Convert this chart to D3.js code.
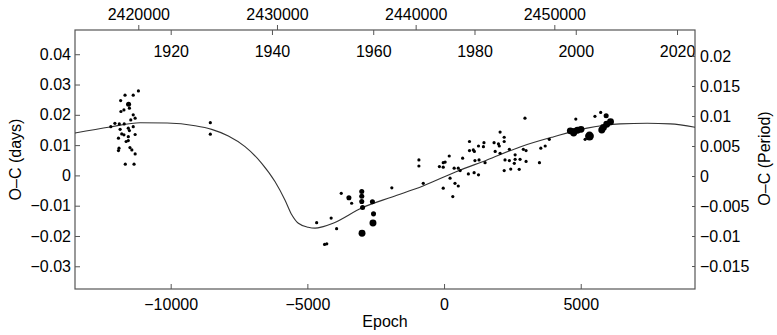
<!DOCTYPE html>
<html lang="en">
<head>
  <meta charset="utf-8">
  <title>O-C diagram</title>
  <script src="https://d3js.org/d3.v7.min.js"></script>
  <style>
  body {
    margin: 0;
    background: white;
  }
  .axis text {
    font-family: "Liberation Sans", Arial, sans-serif;
    font-size: 16px;
    fill: black;
  }
  .axis line {
    stroke: #555;
  }
  .axis path {
    display: none;
  }
  .label {
    font-family: "Liberation Sans", Arial, sans-serif;
    font-size: 16px;
    fill: black;
    text-anchor: middle;
  }
  </style>
</head>
<body>
<script>

// Display constants (plot box in pixels)
var width = 777;
var height = 335;
var plotL = 75, plotR = 695, plotT = 30, plotB = 289;

// Observed minima: epoch, O-C (days), weight class
var epoch = [
  -11180,-11670,-11370,-11830,-11540,-11510,-11710,-11820,-11370,-11300,
  -11460,-12040,-11880,-11700,-12190,-11550,-11370,-11850,-11510,-11790,
  -11710,-11300,-11910,-11550,-11630,-11550,-11890,-11910,-11490,-11420,
  -11300,-11660,-11340,-8550,-8550,
  -4660,-4290,-4370,-4130,-3930,-3760,-3480,-3380,-3010,-3010,
  -3010,-2980,-3000,-2620,-2580,-2600,-1910,-760,-920,-920,
  -170,-30,40,-30,-30,190,220,320,370,400,
  520,520,590,680,890,930,930,1070,1110,1100,
  1130,1260,1260,1280,1440,1460,1500,1830,1870,1990,
  2020,2050,2050,2200,2200,2230,2200,2390,2390,2440,
  2570,2600,2600,2750,2780,2900,3000,3000,2960,3490,
  3540,3700,3850,
  4620,4760,4880,5010,4740,5320,5770,5830,5950,6090,5930,
  4820,5520,5730,5160
];
var oc = [
  0.0279,0.0265,0.0265,0.0247,0.0235,0.0222,0.0216,0.0211,0.0200,0.0189,
  0.0183,0.0172,0.0170,0.0170,0.0161,0.0156,0.0161,0.0152,0.0148,0.0137,
  0.0134,0.0135,0.0123,0.0128,0.0112,0.0115,0.0090,0.0082,0.0092,0.0084,
  0.0071,0.0037,0.0037,0.0174,0.0136,
  -0.0156,-0.0226,-0.0228,-0.0141,-0.0176,-0.0059,-0.0074,-0.0092,-0.0053,-0.0069,
  -0.0086,-0.0106,-0.0191,-0.0087,-0.0127,-0.0157,-0.0041,-0.0026,0.0051,0.0031,
  0.0029,0.0042,0.0044,0.0027,-0.0042,0.0064,-0.0009,-0.0070,0.0024,-0.0026,
  -0.0035,0.0024,0.0016,0.0057,0.0005,0.0112,0.0082,0.0084,0.0079,0.0009,
  0.0049,0.0097,0.0002,0.0051,0.0095,0.0108,0.0042,0.0108,0.0079,0.0104,
  0.0097,0.0143,0.0073,0.0126,0.0112,0.0051,0.0016,0.0086,0.0049,0.0021,
  0.0040,0.0068,0.0053,0.0020,0.0053,0.0086,0.0082,0.0046,0.0189,0.0042,
  0.0090,0.0097,0.0119,
  0.0147,0.0145,0.0149,0.0152,0.0140,0.0130,0.0150,0.0158,0.0169,0.0177,0.0197,
  0.0186,0.0195,0.0208,0.0119
];
var weight = [
  1,1,1,1,2,1,1,1,1,1,
  1,1,1,1,1,1,1,1,1,1,
  1,1,1,1,1,1,1,1,1,1,
  1,1,1,1,1,
  1,1,1,1,1,1,2,1,2,2,
  2,2,3,2,2,3,1,1,1,1,
  1,1,1,1,1,1,1,1,1,1,
  1,1,1,1,1,1,1,1,1,1,
  1,1,1,1,1,1,1,1,1,1,
  1,1,1,1,1,1,1,1,1,1,
  1,1,1,1,1,1,1,1,1,1,
  1,1,1,
  3,3,3,3,3,4,3,3,3,3,2,
  1,1,1,1
];

var fitEpoch = [-13500,-12220,-11120,-10130,-9110,-8500,-7890,-7280,-6670,-6180,
  -5820,-5570,-5330,-4970,-4720,-4420,-4060,-3000,-1900,-770,
  440,1570,2780,3990,5230,6440,7430,8270,9180];
var fitOC = [0.0140,0.0160,0.0174,0.0173,0.0164,0.0152,0.0130,0.0095,0.0040,-0.0021,
  -0.0081,-0.0130,-0.0158,-0.0171,-0.0174,-0.0169,-0.0158,-0.0107,-0.0071,-0.0035,
  0.0012,0.0051,0.0094,0.0127,0.0156,0.0170,0.0172,0.0170,0.0159];

// Tick labels
var epochTicks = [-10000, -5000, 0, 5000];
var yearTicks = [1920, 1940, 1960, 1980, 2000, 2020];
var jdTicks = [2420000, 2430000, 2440000, 2450000];
var daysTicks = [-0.03, -0.02, -0.01, 0, 0.01, 0.02, 0.03, 0.04];
var periodTicks = [-0.015, -0.01, -0.005, 0, 0.005, 0.01, 0.015, 0.02];

var svg = d3.select("body")
  .append("svg")
  .attr("width", width)
  .attr("height", height);

var x = d3.scaleLinear().domain([-13500, 9180]).range([plotL, plotR]);
var xYear = d3.scaleLinear().domain([1901.1, 2023.55]).range([plotL, plotR]);
var xJD = d3.scaleLinear().domain([2415436, 2460144]).range([plotL, plotR]);
var y = d3.scaleLinear().domain([-0.0375, 0.048]).range([plotB, plotT]);
var yP = d3.scaleLinear().domain([-0.01883, 0.02433]).range([plotB, plotT]);
var r = d3.scaleLinear().domain([1, 4]).range([1.6, 4.4]);

var fmt = d3.format("~g");

// Axes
svg.append("g")
  .attr("class", "axis")
  .attr("transform", "translate(0," + plotB + ")")
  .call(d3.axisBottom(x).tickValues(epochTicks).tickSize(-5).tickPadding(9.5)
    .tickFormat(d3.format("d")));

svg.append("g")
  .attr("class", "axis")
  .attr("transform", "translate(0," + plotT + ")")
  .call(d3.axisBottom(xYear).tickValues(yearTicks).tickSize(5).tickPadding(10.5)
    .tickFormat(d3.format("d")));

svg.append("g")
  .attr("class", "axis")
  .attr("transform", "translate(0," + plotT + ")")
  .call(d3.axisTop(xJD).tickValues(jdTicks).tickSize(5).tickPadding(5)
    .tickFormat(d3.format("d")));

svg.append("g")
  .attr("class", "axis")
  .attr("transform", "translate(" + plotL + ",0)")
  .call(d3.axisLeft(y).tickValues(daysTicks).tickSize(-5).tickPadding(4)
    .tickFormat(fmt));

svg.append("g")
  .attr("class", "axis")
  .attr("transform", "translate(" + plotR + ",0)")
  .call(d3.axisRight(yP).tickValues(periodTicks).tickSize(-3).tickPadding(5)
    .tickFormat(fmt));

// Frame
svg.append("rect")
  .attr("x", plotL)
  .attr("y", plotT)
  .attr("width", plotR - plotL)
  .attr("height", plotB - plotT)
  .attr("fill", "none")
  .attr("stroke", "#555")
  .attr("stroke-width", 1.2);

// Fit curve
var line = d3.line()
  .x(function(d, i) { return x(fitEpoch[i]); })
  .y(function(d) { return y(d); })
  .curve(d3.curveMonotoneX);

svg.append("path")
  .attr("d", line(fitOC))
  .attr("fill", "none")
  .attr("stroke", "#333")
  .attr("stroke-width", 1.1);

// Observations
svg.append("g").selectAll("circle")
  .data(oc)
  .enter().append("circle")
  .attr("cx", function(d, i) { return x(epoch[i]); })
  .attr("cy", function(d) { return y(d); })
  .attr("r", function(d, i) { return r(weight[i]); })
  .attr("fill", "black");

// Axis titles
svg.append("text")
  .attr("class", "label")
  .attr("x", (plotL + plotR) / 2)
  .attr("y", 327)
  .text("Epoch");

svg.append("text")
  .attr("class", "label")
  .attr("transform", "translate(21," + ((plotT + plotB) / 2) + ") rotate(-90)")
  .text("O\u2013C (days)");

svg.append("text")
  .attr("class", "label")
  .attr("transform", "translate(770," + ((plotT + plotB) / 2 - 1) + ") rotate(-90)")
  .text("O\u2013C (Period)");
</script>
</body>
</html>
